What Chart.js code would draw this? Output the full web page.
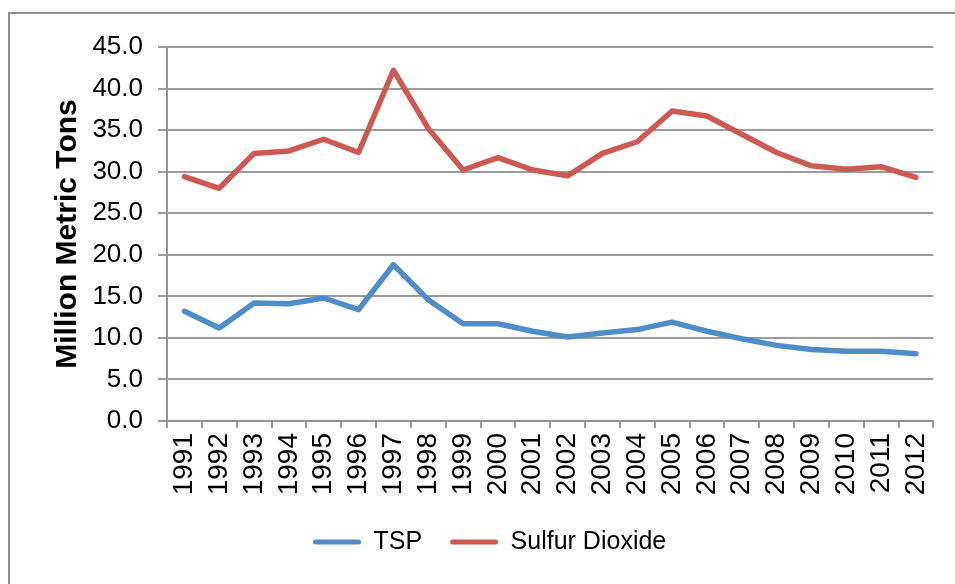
<!DOCTYPE html>
<html><head><meta charset="utf-8">
<script src="https://cdn.jsdelivr.net/npm/chart.js@4.4.1/dist/chart.umd.min.js"></script>
<style>html,body{margin:0;padding:0;background:#fff;}#wrap{width:955px;height:584px;position:relative;}</style>
</head><body><div id="wrap"><canvas id="c" width="955" height="584"></canvas></div>
<script>
const years = ['1991','1992','1993','1994','1995','1996','1997','1998','1999','2000','2001','2002','2003','2004','2005','2006','2007','2008','2009','2010','2011','2012'];
const tspValues = [13.2, 11.2, 14.2, 14.1, 14.8, 13.4, 18.8, 14.6, 11.7, 11.7, 10.8, 10.1, 10.6, 11.0, 11.9, 10.8, 9.9, 9.1, 8.6, 8.4, 8.4, 8.1];
const so2Values = [29.4, 28.0, 32.2, 32.5, 33.9, 32.3, 42.2, 35.2, 30.2, 31.7, 30.2, 29.5, 32.2, 33.6, 37.3, 36.7, 34.5, 32.3, 30.7, 30.3, 30.6, 29.3];
const yTickValues = [0, 5, 10, 15, 20, 25, 30, 35, 40, 45];
const seriesNames = ['TSP', 'Sulfur Dioxide'];
const yAxisTitle = 'Million Metric Tons';

const blue = '#4f8dc9';
const red = '#cd5a52';
const gridColor = '#9c9c9c';
const axisColor = '#939393';

Chart.defaults.font.family = "'Liberation Sans', Arial, sans-serif";
Chart.defaults.color = '#000';

const LEGEND_PAD = 28;
const PLOT_BOTTOM = 421;

const framePlugin = {
  id: 'frame',
  beforeDraw(chart) {
    const ctx = chart.ctx;
    ctx.save();
    ctx.strokeStyle = '#8e8e8e';
    ctx.lineWidth = 2;
    ctx.strokeRect(9, 13, 1000, 700);
    ctx.restore();
  }
};

const legendShift = {
  id: 'legendShift',
  afterLayout(chart) {
    const l = chart.legend;
    if (!l || !l.lineWidths) return;
    const start = (l.left + LEGEND_PAD + l.right - l.lineWidths[0]) / 2;
    const dx = 313 - start;
    const dy = (542 - LEGEND_PAD - 12.5) - l.top;
    l.left += dx; l.right += dx; l.top += dy; l.bottom += dy;
  }
};

new Chart(document.getElementById('c'), {
  type: 'line',
  data: {
    labels: years,
    datasets: [
      { label: seriesNames[0], data: tspValues, borderColor: blue, backgroundColor: blue },
      { label: seriesNames[1], data: so2Values, borderColor: red, backgroundColor: red }
    ]
  },
  options: {
    responsive: false,
    animation: false,
    devicePixelRatio: 1,
    layout: { padding: { top: 47, right: 21, bottom: 0, left: 0 } },
    elements: {
      line: { borderWidth: 5.5, tension: 0, borderJoinStyle: 'round', borderCapStyle: 'round', fill: false },
      point: { radius: 0, hoverRadius: 0 }
    },
    plugins: {
      tooltip: { enabled: false },
      legend: {
        position: 'bottom',
        labels: {
          boxWidth: 48,
          boxHeight: 5,
          useBorderRadius: true,
          borderRadius: 2.5,
          padding: LEGEND_PAD,
          color: '#000',
          font: { size: 25 },
          generateLabels(chart) {
            return Chart.defaults.plugins.legend.labels.generateLabels(chart).map(it => Object.assign(it, { lineWidth: 0 }));
          }
        }
      }
    },
    scales: {
      x: {
        type: 'category',
        offset: true,
        grid: { display: true, drawOnChartArea: false, drawTicks: true, tickLength: 7, offset: true, color: gridColor, lineWidth: 2 },
        border: { display: true, color: axisColor, width: 2 },
        ticks: { font: { size: 28 }, color: '#000', minRotation: 90, maxRotation: 90, autoSkip: false, padding: 5 },
        afterFit(s) {
          const lg = s.chart.legend;
          const lh = lg && lg.height ? lg.height : 63;
          s.height = 584 - PLOT_BOTTOM - lh;
        }
      },
      y: {
        min: 0,
        max: 45,
        afterBuildTicks(s) { s.ticks = yTickValues.map(v => ({ value: v })); },
        ticks: { callback: v => Number(v).toFixed(1), font: { size: 26 }, color: '#000', padding: 15 },
        grid: { color: gridColor, lineWidth: 2, tickLength: 9 },
        border: { display: true, color: axisColor, width: 2 },
        title: { display: true, text: yAxisTitle, color: '#000', font: { size: 30, weight: 'bold' }, padding: { top: 50, bottom: 0 } },
        afterFit(s) { s.width = 167; }
      }
    }
  },
  plugins: [framePlugin, legendShift]
});
</script>
</body></html>
